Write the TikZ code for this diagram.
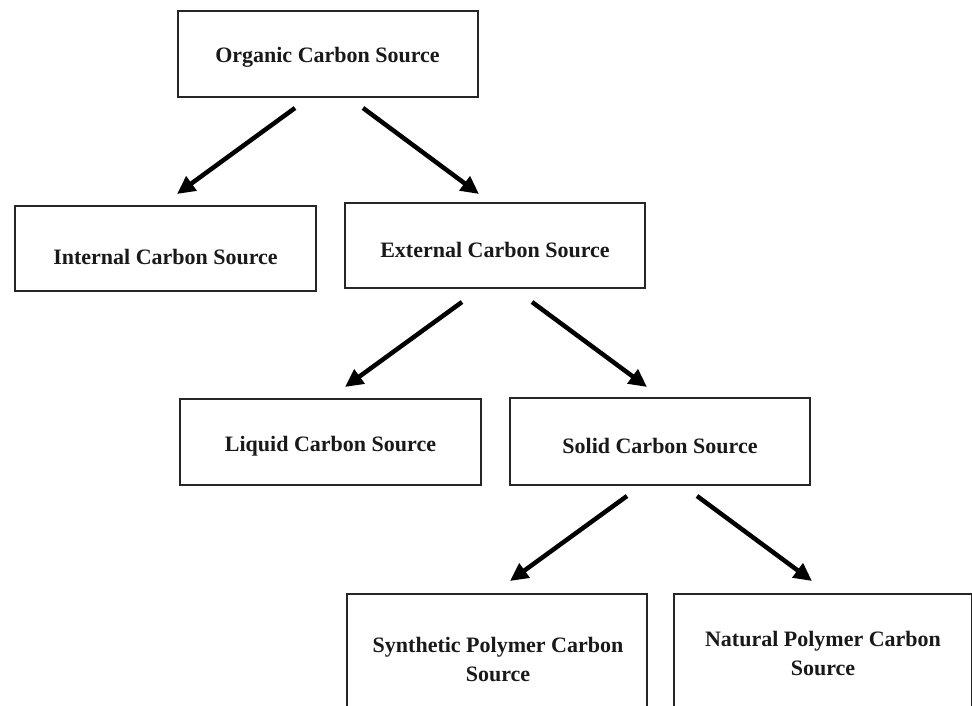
\documentclass[tikz,border=0pt]{standalone}
\usepackage{fontspec}
\setmainfont{Liberation Serif}
\usetikzlibrary{arrows.meta}
\begin{document}
\begin{tikzpicture}[x=1pt,y=-1pt,
  box/.style={draw=black!85,line width=2pt,rectangle,inner sep=0pt},
  lbl/.style={font=\fontsize{22}{29}\selectfont\bfseries,align=center,inner sep=0pt,text=black!90},
  arr/.style={line width=4.5pt,-{Triangle[length=18pt,width=17pt]}}
]
\useasboundingbox (0,0) rectangle (972,705);
\clip (0,0) rectangle (972,705);
% boxes
\node[box,minimum width=300pt,minimum height=86pt] (org) at (328,54) {};
\node[box,minimum width=301pt,minimum height=85pt] (int) at (165.5,248.5) {};
\node[box,minimum width=300pt,minimum height=85pt] (ext) at (495,245.5) {};
\node[box,minimum width=301pt,minimum height=86pt] (liq) at (330.5,442) {};
\node[box,minimum width=300pt,minimum height=87pt] (sol) at (660,441.5) {};
\node[box,minimum width=300pt,minimum height=140pt] (syn) at (497,664) {};
\node[box,minimum width=298pt,minimum height=140pt] (nat) at (823,664) {};
% labels
\node[lbl] (torg) at (327.5,57) {Organic Carbon Source};
\node[lbl] (tint) at (165.5,257) {Internal Carbon Source};
\node[lbl] (text) at (495,250) {External Carbon Source};
\node[lbl] (tliq) at (330.5,446) {Liquid Carbon Source};
\node[lbl] (tsol) at (660,446) {Solid Carbon Source};
\node[lbl] (tsyn) at (498,659) {Synthetic Polymer Carbon\\Source};
\node[lbl] (tnat) at (823,653) {Natural Polymer Carbon\\Source};
% arrow end points
\coordinate (a1s) at (295,108); \coordinate (a1e) at (177,194);
\coordinate (a2s) at (363,108); \coordinate (a2e) at (479,194);
\coordinate (a3s) at (462,302); \coordinate (a3e) at (345,387);
\coordinate (a4s) at (532,302); \coordinate (a4e) at (647,387);
\coordinate (a5s) at (627,496); \coordinate (a5e) at (510,581);
\coordinate (a6s) at (697,496); \coordinate (a6e) at (812,581);
\draw[arr] (a1s) -- (a1e);
\draw[arr] (a2s) -- (a2e);
\draw[arr] (a3s) -- (a3e);
\draw[arr] (a4s) -- (a4e);
\draw[arr] (a5s) -- (a5e);
\draw[arr] (a6s) -- (a6e);
\end{tikzpicture}
\end{document}
